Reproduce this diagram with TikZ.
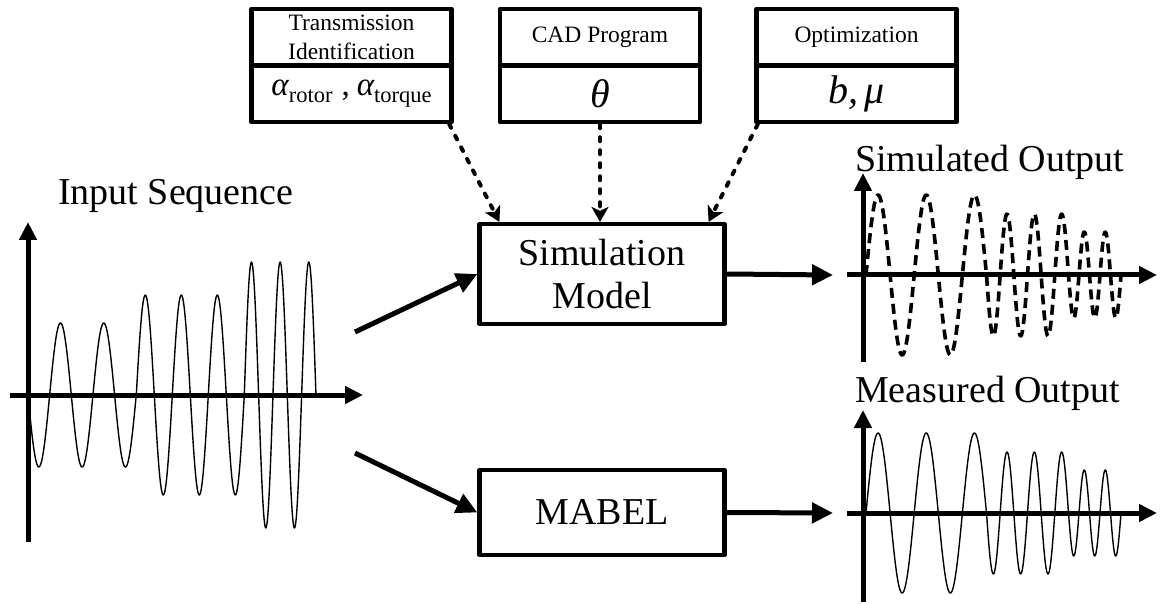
\documentclass[tikz,border=0pt]{standalone}
\usepackage{fontspec}
\setmainfont{Liberation Serif}
\usetikzlibrary{arrows.meta}

\newcommand{\subtxt}[1]{\raisebox{-0.22em}{\fontsize{22.5}{22.5}\selectfont #1}}

\begin{document}
\begin{tikzpicture}[x=1pt,y=-1pt,
  line join=round,
  big/.style={font=\fontsize{38}{45}\selectfont},
  small/.style={font=\fontsize{23.5}{29}\selectfont},
  cell/.style={draw, line width=4.5pt, minimum width=200pt, minimum height=57pt,
    inner sep=0pt, align=center},
  block/.style={draw, line width=4.2pt, minimum width=245pt, inner sep=0pt,
    align=center, big},
  lbl/.style={big, inner sep=0pt, anchor=base west},
  feed/.style={line width=4pt, line cap=round, dash pattern=on 4pt off 9pt,
    -{Stealth[length=15pt, width=17pt, inset=4pt, line cap=butt, sep=0pt]}},
  flow/.style={line width=5pt, -{Triangle[length=21pt, width=20pt]}},
  axis/.style={line width=5pt, -{Triangle[length=18pt, width=17pt]}},
  wave/.style={line width=1.4pt},
  dwave/.style={line width=3.6pt, dash pattern=on 10pt off 6pt},
]
\useasboundingbox (0,0) rectangle (1163,604);

% parameter sources
\node[cell, small] (t1a) at (351.5,37.5) {Transmission\\Identification};
\node[cell, font=\fontsize{33}{36}\selectfont] (t1b) at (351.5,93.5)
  {{\itshape α}\subtxt{rotor}\hspace{9pt},\hspace{7pt}{\itshape α}\subtxt{torque}};
\node[cell, small] (t2a) at (600,37.5) {CAD Program};
\node[cell, font=\fontsize{40}{44}\selectfont] (t2b) at (600,93.5) {\itshape θ};
\node[cell, small] (t3a) at (856.5,37.5) {Optimization};
\node[cell, font=\fontsize{40}{44}\selectfont] (t3b) at (856.5,93.5) {\itshape b,\,μ};

% models
\node[block, minimum height=100pt] (sim) at (602,274) {Simulation\\[-2pt]Model};
\node[block, minimum height=85pt] (mabel) at (602,512.5) {MABEL};

% parameter feeds
\draw[feed] ([xshift=-4.5pt]t1b.south east) -- ([xshift=22pt]sim.north west);
\draw[feed] (t2b.south) -- ([xshift=-2pt]sim.north);
\draw[feed] ([xshift=3.5pt]t3b.south west) -- ([xshift=-18pt]sim.north east);

% signal flow
\coordinate (inA) at (355,332);
\coordinate (inB) at (355,453);
\coordinate (outA) at (833,275);
\coordinate (outB) at (833,513);
\draw[flow] (inA) -- (sim.west);
\draw[flow] (inB) -- (mabel.west);
\draw[flow] (sim.east) -- (outA);
\draw[flow] (mabel.east) -- (outB);

% labels
\node[lbl] (inlbl) at (58,205) {Input Sequence};
\node[lbl] (simlbl) at (855,172) {Simulated Output};
\node[lbl] (meslbl) at (855,402) {Measured Output};

% input sequence plot (phase factors are 360/period)
\draw[wave]
  plot[domain=28:136.3, samples=160] (\x,{395+72*sin((\x-28)*8.3141)})
  -- plot[domain=136.3:244.3, samples=180] (\x,{395-100*sin((\x-136.3)*10)})
  -- plot[domain=244.3:316, samples=160] (\x,{395-133*sin((\x-244.3)*12.557)});
\draw[axis] (10,395) -- (363,395);
\draw[axis] (28,542) -- (28,222);

% simulated output plot
\draw[dwave]
  plot[domain=866:986.5, samples=160] (\x,{275-80*sin((\x-866)*7.4689)})
  -- plot[domain=986.5:1068.5, samples=160] (\x,{275+61*sin((\x-986.5)*13.172)})
  -- plot[domain=1068.5:1121, samples=120] (\x,{275+43*sin((\x-1068.5)*17.1429)});
\draw[axis] (847,275) -- (1157,275);
\draw[axis] (863,362) -- (863,173);

% measured output plot
\draw[wave]
  plot[domain=866:986.5, samples=160] (\x,{513-80*sin((\x-866)*7.4689)})
  -- plot[domain=986.5:1068.5, samples=160] (\x,{513+61*sin((\x-986.5)*13.172)})
  -- plot[domain=1068.5:1121, samples=120] (\x,{513+43*sin((\x-1068.5)*17.1429)});
\draw[axis] (847,513) -- (1157,513);
\draw[axis] (863,602) -- (863,410);
\end{tikzpicture}
\end{document}
